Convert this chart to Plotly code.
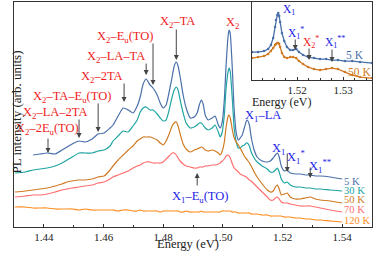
import plotly.graph_objects as go

# ---------------- main spectra (energy in eV, intensity in arb. units) ----------------
energy = [1.4303, 1.4337, 1.4364, 1.4387, 1.4411, 1.4438, 1.4461, 1.4478, 1.4495, 1.4518,
          1.4538, 1.4562, 1.4582, 1.4602, 1.4622, 1.4632, 1.4649, 1.4666, 1.4683, 1.4699,
          1.4713, 1.4723, 1.4733, 1.4743, 1.4756, 1.4766, 1.4780, 1.4790, 1.4800, 1.4810,
          1.4820, 1.4830, 1.4837, 1.4844, 1.4850, 1.4857, 1.4867, 1.4877, 1.4891, 1.4904,
          1.4914, 1.4921, 1.4928, 1.4934, 1.4941, 1.4951, 1.4964, 1.4974, 1.4985, 1.4991,
          1.4998, 1.5005, 1.5011, 1.5018, 1.5021, 1.5025, 1.5032, 1.5038, 1.5045, 1.5052,
          1.5058, 1.5065, 1.5072, 1.5079, 1.5082, 1.5089, 1.5095, 1.5105, 1.5115, 1.5132,
          1.5149, 1.5159, 1.5169, 1.5176, 1.5183, 1.5189, 1.5196, 1.5206, 1.5216, 1.5226,
          1.5243, 1.5260, 1.5277, 1.5293, 1.5310, 1.5327, 1.5360, 1.5400]

pl_5K = [None, None, 72, 73, 74, 73, 77, 80, 83, 86,
         85, 88, 93, 94, 99, 102, 111, 119, 117, 114,
         121, 130, 143, 148, 142, 139, 132, 124, 119, 122,
         135, 150, 161, 165, 161, 150, 132, 119, 109, 110,
         114, 122, 127, 123, 112, 107, 109, 111, 102, 99,
         105, 127, 162, 192, 197, 193, 157, 117, 94, 87,
         89, 92, 99, 106, 107, 102, 90, 77, 70, 66,
         65, 66, 69, 72, 74, 70, 61, 56, 57, 54,
         53, 53, 52, 52, 51, 51, 50, 48]

pl_30K = [54, 55, 57, 58, 59, 61, 64, 67, 70, 74,
          74, 74, 76, 77, 81, 86, 91, 96, 95, 101,
          107, 115, 119, 120, 117, 117, 113, 109, 106, 107,
          117, 130, 137, 140, 137, 127, 114, 104, 99, 100,
          102, 104, 104, 102, 99, 97, 99, 102, 95, 90,
          95, 112, 139, 156, 159, 155, 127, 99, 85, 79,
          79, 81, 82, 84, 84, 81, 75, 69, 65, 61,
          58, 55, 55, 57, 59, 55, 48, 44, 45, 42,
          40, 40, 39, 39, 38, 38, 37, 36]

pl_50K = [35, 36, 37, 38, 39, 41, 43, 45, 46, 47,
          47, 48, 50, 51, 57, 61, 67, 72, 77, 81,
          86, 88, 90, 90, 90, 89, 87, 84, 82, 86,
          93, 101, 104, 105, 101, 93, 83, 78, 75, 77,
          78, 79, 80, 79, 77, 76, 77, 76, 74, 72,
          76, 85, 100, 111, 112, 109, 97, 89, 85, 82,
          79, 75, 71, 68, 67, 64, 61, 55, 50, 43,
          37, 35, 36, 40, 42, 38, 32, 33, 34, 30,
          28, 28, 29, 30, 28, 27, 26, 24]

pl_70K = [30, 31, 32, 32, 33, 35, 37, 38, 39, 40,
          41, 42, 44, 45, 48, 50, 52, 54, 56, 59,
          61, 62, 64, 65, 65, 64, 64, 64, 65, 68,
          71, 74, 74, 72, 69, 66, 63, 61, 60, 59,
          59, 60, 60, 60, 61, 61, 62, 62, 63, 64,
          66, 68, 71, 72, 71, 69, 63, 59, 57, 55,
          53, 52, 51, 50, 49, 47, 46, 43, 40, 35,
          30, 27, 27, 29, 30, 28, 25, 24, 24, 23,
          22, 21, 21, 21, 20, 19, 17, 15]

pl_120K = [20, 20, 19, 19, 19, 18, 18, 18, 18, 17,
           18, 17, 17, 17, 17, 17, 16, 17, 17, 16,
           16, 17, 16, 16, 16, 16, 16, 15, 16, 16,
           16, 16, 16, 16, 16, 15, 15, 16, 15, 15,
           15, 15, 16, 15, 15, 15, 15, 15, 15, 15,
           16, 16, 16, 16, 16, 16, 15, 15, 15, 14,
           14, 14, 14, 14, 14, 14, 13, 13, 13, 12,
           12, 11, 11, 11, 11, 11, 11, 10, 10, 10,
           9, 9, 8, 8, 7, 7, 6, 5]

temps = ["5 K", "30 K", "50 K", "70 K", "120 K"]
colors = ["#4a70aa", "#20a5a2", "#cf7a22", "#ff6f6f", "#ff8c1a"]
main_series = [pl_5K, pl_30K, pl_50K, pl_70K, pl_120K]
label_y = [46, 37, 28, 18, 7]

# ---------------- inset spectra ----------------
inset_energy = [1.5102, 1.5115, 1.5128, 1.5137, 1.5143, 1.5148, 1.5152, 1.5154, 1.5157, 1.5159,
                1.5161, 1.5163, 1.5167, 1.5172, 1.5178, 1.5185, 1.5191, 1.5198, 1.5204, 1.5213,
                1.5224, 1.5237, 1.5250, 1.5263, 1.5276, 1.5289, 1.5304, 1.5320, 1.5337, 1.5363]
inset_5K = [28, 28, 29, 31, 35, 42, 53, 60, 65, 67,
            64, 58, 47, 39, 33, 30, 30, 31, 28, 25,
            23, 22, 21, 21, 20, 20, 19, 19, 18, 17]
inset_50K = [22, 23, 24, 26, 29, 32, 35, 36, 37, 37,
             36, 33, 27, 23, 22, 23, 23, 22, 19, 16,
             13, 11, 10, 11, 12, 11, 8, 5, 3, 2]

x_ticks = [1.44, 1.46, 1.48, 1.50, 1.52, 1.54]
inset_ticks = [1.52, 1.53]

RED = "#f01c1c"
BLUE = "#1e1ee6"
ARROW = "#444444"
FONT = "Liberation Serif"

fig = go.Figure()
for s, c, t in zip(main_series, colors, temps):
    fig.add_trace(go.Scatter(x=energy, y=s, mode="lines", name=t,
                             line=dict(color=c, width=1.2, shape="spline", smoothing=0.5),
                             showlegend=False, hoverinfo="skip", xaxis="x", yaxis="y"))

fig.add_trace(go.Scatter(x=inset_energy, y=inset_5K, mode="lines+markers",
                         line=dict(color=colors[0], width=1.3), marker=dict(size=2.5, color=colors[0]),
                         showlegend=False, hoverinfo="skip", xaxis="x2", yaxis="y2"))
fig.add_trace(go.Scatter(x=inset_energy, y=inset_50K, mode="lines+markers",
                         line=dict(color=colors[2], width=1.3), marker=dict(size=2.5, color=colors[2]),
                         showlegend=False, hoverinfo="skip", xaxis="x2", yaxis="y2"))

ann = []
# main labels (red: X2 replicas)
red_labels = [
    ("X<sub>2</sub>–TA", 1.4847, 205),
    ("X<sub>2</sub>–E<sub>u</sub>(TO)", 1.4672, 190),
    ("X<sub>2</sub>–LA–TA", 1.4642, 170),
    ("X<sub>2</sub>–2TA", 1.4595, 150),
    ("X<sub>2</sub>–TA–E<sub>u</sub>(TO)", 1.4495, 130),
    ("X<sub>2</sub>–LA–2TA", 1.4438, 114),
    ("X<sub>2</sub>–2E<sub>u</sub>(TO)", 1.4411, 98),
    ("X<sub>2</sub>", 1.5032, 204),
]
for txt, x, y in red_labels:
    ann.append(dict(text=txt, x=x, y=y, xref="x", yref="y", showarrow=False,
                    font=dict(family=FONT, size=12.5, color=RED)))
blue_labels = [
    ("X<sub>1</sub>–LA", 1.5136, 111),
    ("X<sub>1</sub>", 1.5186, 78),
    ("X<sub>1</sub><sup>*</sup>", 1.5246, 70),
    ("X<sub>1</sub><sup>**</sup>", 1.5327, 61),
    ("X<sub>1</sub>–E<sub>u</sub>(TO)", 1.4924, 30),
]
for txt, x, y in blue_labels:
    ann.append(dict(text=txt, x=x, y=y, xref="x", yref="y", showarrow=False,
                    font=dict(family=FONT, size=12.5, color=BLUE)))

# arrows: (x, y_tail, y_tip)
main_arrows = [
    (1.4844, 199, 167), (1.4766, 185, 142), (1.4743, 165, 152), (1.4669, 145, 125),
    (1.4582, 125, 95), (1.4518, 109, 89), (1.4414, 90, 74),
    (1.5216, 75, 55), (1.5293, 61, 49), (1.4914, 40, 54),
]
for x, yt, yh in main_arrows:
    ann.append(dict(text="", x=x, y=yh, ax=x, ay=yt, xref="x", yref="y", axref="x", ayref="y",
                    showarrow=True, arrowhead=2, arrowsize=1, arrowwidth=1, arrowcolor=ARROW))

# temperature labels
for t, c, ly in zip(temps, colors, label_y):
    ann.append(dict(text=t, x=1.5400, y=ly, xref="x", yref="y", xanchor="left", showarrow=False,
                    font=dict(family=FONT, size=10.5, color=c)))

# inset labels
inset_labels = [
    ("X<sub>1</sub>", 1.5183, 70, BLUE),
    ("X<sub>1</sub><sup>*</sup>", 1.5198, 47, BLUE),
    ("X<sub>2</sub><sup>*</sup>", 1.5230, 38, RED),
    ("X<sub>1</sub><sup>**</sup>", 1.5283, 38, BLUE),
    ("5 K", 1.5326, 25, colors[0]),
    ("50 K", 1.5335, 8, colors[2]),
]
for txt, x, y, c in inset_labels:
    ann.append(dict(text=txt, x=x, y=y, xref="x2", yref="y2", showarrow=False,
                    font=dict(family=FONT, size=11.5, color=c)))
inset_arrows = [(1.5196, 42, 30), (1.5226, 33, 20), (1.5276, 32, 18)]
for x, yt, yh in inset_arrows:
    ann.append(dict(text="", x=x, y=yh, ax=x, ay=yt, xref="x2", yref="y2", axref="x2", ayref="y2",
                    showarrow=True, arrowhead=2, arrowsize=1, arrowwidth=1, arrowcolor=ARROW))

# axis titles
ann.append(dict(text="Energy (eV)", x=0.486, y=-0.115, xref="paper", yref="paper", showarrow=False,
                font=dict(family=FONT, size=12.5, color="#222")))
ann.append(dict(text="PL intensity (arb. units)", x=-0.0196, y=0.511, xref="paper", yref="paper",
                textangle=-90, showarrow=False, font=dict(family=FONT, size=13, color="#222")))
ann.append(dict(text="Energy (eV)", x=0.835, y=0.556, xref="paper", yref="paper", showarrow=False,
                font=dict(family=FONT, size=12, color="#222")))

axis_common = dict(showline=True, linecolor="#333", linewidth=1, mirror=True, showgrid=False,
                   zeroline=False)

fig.update_layout(
    width=374, height=258,
    margin=dict(l=14, r=2, t=2, b=31),
    paper_bgcolor="white", plot_bgcolor="white",
    font=dict(family=FONT, size=12, color="#222"),
    hovermode=False,
    xaxis=dict(range=[1.43, 1.55], tickvals=x_ticks, ticktext=[f"{v:.2f}" for v in x_ticks],
               ticks="inside", ticklen=3, tickcolor="#333",
               minor=dict(dtick=0.01, ticks="inside", ticklen=2, tickcolor="#333"),
               tickfont=dict(family=FONT, size=11, color="#222"), domain=[0, 1], **axis_common),
    yaxis=dict(range=[0, 225], showticklabels=False, ticks="", domain=[0, 1], **axis_common),
    xaxis2=dict(range=[1.5102, 1.5363], tickvals=inset_ticks,
                ticktext=[f"{v:.2f}" for v in inset_ticks],
                ticks="inside", ticklen=3, tickcolor="#333",
                minor=dict(dtick=0.0025, ticks="inside", ticklen=2, tickcolor="#333"),
                tickfont=dict(family=FONT, size=11, color="#222"),
                domain=[0.665, 1], anchor="y2", **axis_common),
    yaxis2=dict(range=[0, 78], showticklabels=False, ticks="", domain=[0.653, 1], anchor="x2",
                **axis_common),
    annotations=ann,
)

fig.write_html("out.html",
               config={"displayModeBar": False, "staticPlot": True},
               post_script="document.body.style.margin='0';document.body.style.padding='0';"
                           "document.body.style.overflow='hidden';")
